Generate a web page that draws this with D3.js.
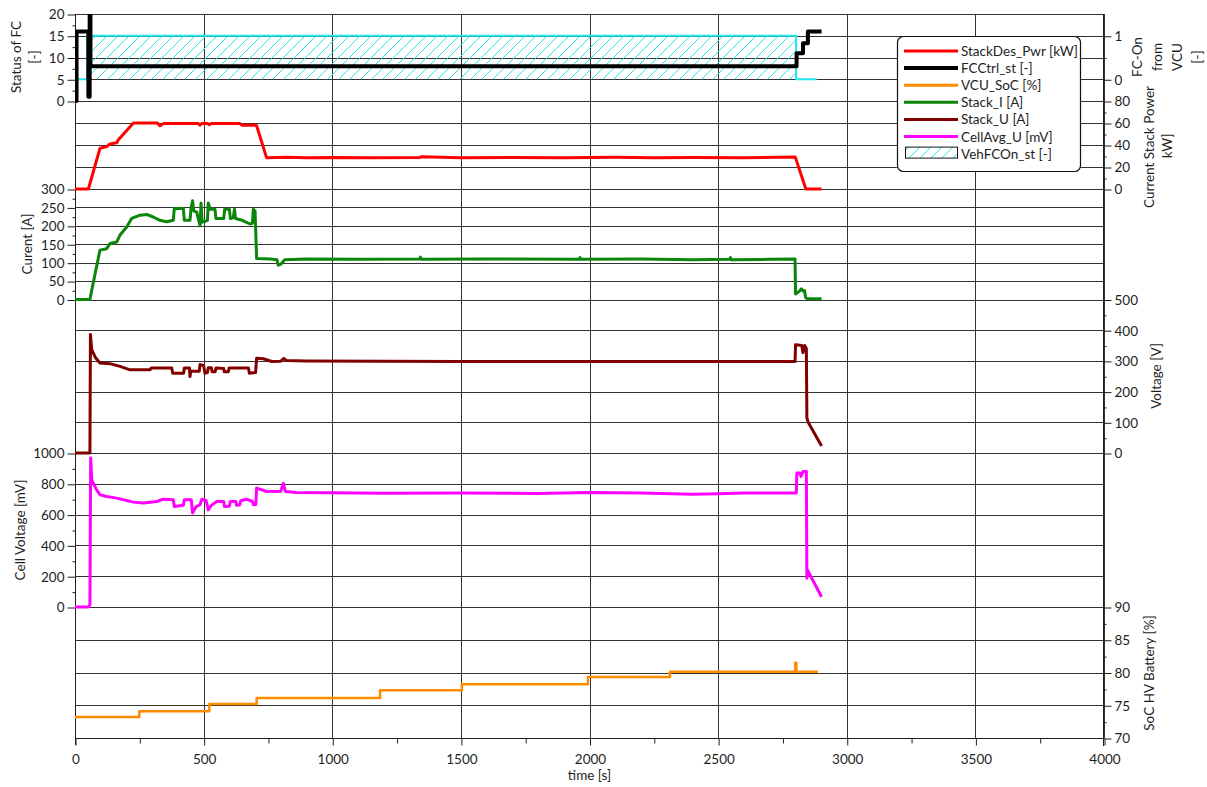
<!DOCTYPE html>
<html>
<head>
<meta charset="utf-8">
<script src="https://cdn.jsdelivr.net/npm/d3@7"></script>
<style>
  body { margin: 0; background: #fff; }
  text { font-family: Lato, "Open Sans", sans-serif; fill: #1e1e1e; }
  .axis text { font-size: 13.5px; }
  .axis line { stroke: #1e1e1e; }
  .axis path { display: none; }
</style>
</head>
<body>
<svg id="chart" width="1207" height="787"></svg>
<script>
// ---- Measured signals (time in s) ----
// FCCtrl_st [-] (step signal)
const fcTime  = [0, 6, 52, 57, 60, 2805, 2830, 2849, 2902];
const fcValue = [0, 16, 1, 26, 8, 11, 13.3, 16, 16];

// VehFCOn_st [-] (step signal)
const vehTime  = [0, 47, 2803, 2883];
const vehValue = [0, 1, 0, 0];

// StackDes_Pwr [kW]
const pwrTime  = [0, 52, 97, 123, 136, 162, 168, 227, 320, 330, 345, 480, 486, 492, 515, 522, 530, 640, 650, 700, 706, 745, 820, 900, 1000, 1150, 1340, 1345, 1500, 1700, 1900, 2100, 2250, 2400, 2600, 2800, 2841, 2902];
const pwrValue = [0, 0, 37, 38.5, 41, 42, 44.5, 60, 60, 57.5, 59.5, 59.5, 58, 59.5, 59.5, 58.5, 59.5, 59.5, 58, 58, 57.5, 28.3, 28.9, 28.4, 28.7, 28.3, 28.6, 29.3, 28.5, 28.7, 28.4, 28.8, 28.4, 28.6, 28.4, 29, 0, 0];

// Stack_I [A]
const curTime  = [0, 58, 65, 97, 123, 136, 162, 175, 201, 220, 253, 279, 304, 330, 356, 382, 386, 421, 425, 447, 451, 457, 462, 473, 486, 490, 494, 505, 515, 518, 525, 544, 548, 578, 582, 600, 604, 615, 620, 624, 650, 680, 690, 693, 700, 706, 760, 785, 790, 800, 815, 900, 1100, 1340, 1343, 1346, 1600, 1960, 1963, 1966, 2200, 2400, 2545, 2548, 2551, 2700, 2799, 2801, 2815, 2824, 2832, 2836, 2840, 2846, 2902];
const curValue = [0, 0, 25, 134, 138, 152, 156, 175, 197, 220, 229, 231, 224, 215, 211, 215, 247, 247, 215, 215, 247, 268, 240, 238, 200, 262, 210, 212, 215, 262, 245, 245, 220, 220, 245, 245, 220, 222, 245, 220, 215, 205, 207, 245, 240, 111, 110, 108, 93, 96, 108, 110, 109, 110, 115, 109, 110, 109, 114, 109, 110, 108, 109, 114, 108, 109, 110, 15, 22, 29, 22, 24, 6, 2, 2];

// Stack_U [V]
const voltTime  = [0, 58, 60, 65, 80, 97, 136, 175, 214, 292, 296, 376, 380, 422, 425, 445, 447, 450, 483, 486, 500, 505, 515, 518, 530, 533, 545, 548, 578, 580, 596, 599, 674, 678, 702, 706, 732, 765, 800, 812, 822, 900, 1500, 2000, 2799, 2801, 2825, 2830, 2836, 2843, 2845, 2850, 2902];
const voltValue = [0, 0, 386, 337, 310, 293, 291, 282, 271, 271, 277, 277, 260, 260, 277, 277, 249, 266, 266, 288, 285, 260, 262, 278, 278, 265, 265, 277, 275, 265, 265, 277, 277, 260, 262, 309, 307, 298, 299, 308, 301, 300, 298, 298, 298, 353, 350, 327, 350, 340, 114, 100, 23];

// CellAvg_U [mV]
const cellTime  = [0, 52, 58, 61, 65, 84, 97, 123, 162, 201, 227, 266, 318, 343, 382, 386, 421, 425, 452, 457, 470, 486, 493, 510, 518, 530, 551, 578, 581, 600, 604, 625, 628, 640, 644, 667, 690, 693, 703, 706, 745, 800, 810, 818, 860, 1000, 1200, 1500, 1800, 2000, 2200, 2400, 2500, 2600, 2804, 2806, 2818, 2822, 2830, 2843, 2845, 2847, 2902];
const cellValue = [0, 0, 15, 967, 826, 761, 729, 718, 707, 692, 681, 675, 685, 700, 696, 653, 660, 696, 696, 611, 650, 664, 700, 690, 631, 660, 685, 685, 653, 655, 685, 685, 660, 662, 690, 700, 685, 664, 666, 772, 750, 752, 803, 750, 744, 742, 738, 740, 737, 743, 741, 732, 735, 740, 740, 870, 870, 848, 880, 880, 187, 240, 67];

// VCU_SoC [%] (step signal)
const socTime  = [0, 250, 522, 706, 1186, 1504, 1994, 2313, 2800, 2804, 2888];
const socValue = [73.2, 74.1, 75.2, 76.1, 77.3, 78.2, 79.3, 80.1, 81.5, 80.1, 80.1];

// ---- Axis ticks ----
const timeTicks      = [0, 500, 1000, 1500, 2000, 2500, 3000, 3500, 4000];
const timeMinor      = [250, 750, 1250, 1750, 2250, 2750, 3250, 3750];
const statusTicks    = [0, 5, 10, 15, 20];
const statusMinor    = [2.5, 7.5, 12.5, 17.5];
const fcOnTicks      = [0, 1];
const fcOnMinor      = [0.5];
const powerTicks     = [0, 20, 40, 60, 80];
const powerMinor     = [10, 30, 50, 70];
const currentTicks   = [0, 50, 100, 150, 200, 250, 300];
const currentMinor   = [25, 75, 125, 175, 225, 275];
const voltageTicks   = [0, 100, 200, 300, 400, 500];
const voltageMinor   = [50, 150, 250, 350, 450];
const cellTicks      = [0, 200, 400, 600, 800, 1000];
const cellMinor      = [100, 300, 500, 700, 900];
const socTicks       = [70, 75, 80, 85, 90];
const socMinor       = [72.5, 77.5, 82.5, 87.5];

// ---- Legend ----
const legendNames  = ["StackDes_Pwr [kW]", "FCCtrl_st [-]", "VCU_SoC [%]", "Stack_I [A]", "Stack_U [A]", "CellAvg_U [mV]", "VehFCOn_st [-]"];
const legendColors = ["#ff0000", "#000000", "#ff8c00", "#0b860b", "#800000", "#ff00ff", "hatch"];

// ---- Layout ----
const L = 75, R = 1104, T = 14, B = 738;
const svg = d3.select("#chart");

const x = d3.scaleLinear().domain([0, 4000]).range([L, R]);
const yStatus  = d3.scaleLinear().domain([0, 20]).range([101, T]);
const yFcOn    = d3.scaleLinear().domain([-0.5, 1.5]).range([101, T]);
const yPower   = d3.scaleLinear().domain([0, 80]).range([189, 101]);
const yCurrent = d3.scaleLinear().domain([0, 300]).range([299.5, 189]);
const yVoltage = d3.scaleLinear().domain([0, 500]).range([453, 299.5]);
const yCell    = d3.scaleLinear().domain([0, 1000]).range([607, 453]);
const ySoc     = d3.scaleLinear().domain([70, 90]).range([B, 607]);

const crisp = v => Math.round(v) + 0.5;

// hatch pattern
const defs = svg.append("defs");
const pat = defs.append("pattern").attr("id", "hatch")
  .attr("patternUnits", "userSpaceOnUse").attr("width", 11).attr("height", 11);
pat.append("path").attr("d", "M-1,1 L1,-1 M0,11 L11,0 M10,12 L12,10")
  .attr("stroke", "#2ee6ea").attr("stroke-width", 1);
defs.append("clipPath").attr("id", "plotClip")
  .append("rect").attr("x", L).attr("y", T).attr("width", R - L).attr("height", B - T);

// ---- Grid ----
const grid = svg.append("g").attr("stroke", "#333").attr("stroke-width", 1);
const hLines = [
  ...statusTicks.map(yStatus), ...fcOnTicks.map(yFcOn), ...powerTicks.map(yPower),
  ...currentTicks.map(yCurrent), ...voltageTicks.map(yVoltage), ...cellTicks.map(yCell),
  ...socTicks.map(ySoc)
];
Array.from(new Set(hLines.map(crisp))).forEach(y =>
  grid.append("line").attr("x1", L).attr("x2", R).attr("y1", y).attr("y2", y));
timeTicks.forEach(t =>
  grid.append("line").attr("x1", crisp(x(t))).attr("x2", crisp(x(t))).attr("y1", T).attr("y2", B));

// ---- Axes ----
function yAxis(gen, scale, major, minor, xpos) {
  const g = svg.append("g").attr("class", "axis").attr("transform", `translate(${xpos},0.5)`);
  g.call(gen(scale).tickValues(major).tickSize(8).tickSizeOuter(0).tickPadding(3).tickFormat(d3.format("d")));
  const gm = svg.append("g").attr("class", "axis").attr("transform", `translate(${xpos},0.5)`);
  gm.call(gen(scale).tickValues(minor).tickSize(3).tickSizeOuter(0).tickFormat(""));
}
yAxis(d3.axisLeft, yStatus, statusTicks, statusMinor, L + 0.5);
yAxis(d3.axisLeft, yCurrent, currentTicks, currentMinor, L + 0.5);
yAxis(d3.axisLeft, yCell, cellTicks, cellMinor, L + 0.5);
yAxis(d3.axisRight, yFcOn, fcOnTicks, fcOnMinor, R - 0.5);
yAxis(d3.axisRight, yPower, powerTicks, powerMinor, R - 0.5);
yAxis(d3.axisRight, yVoltage, voltageTicks, voltageMinor, R - 0.5);
yAxis(d3.axisRight, ySoc, socTicks, socMinor, R - 0.5);

const xg = svg.append("g").attr("class", "axis").attr("transform", `translate(0.5,${B + 0.5})`);
xg.call(d3.axisBottom(x).tickValues(timeTicks).tickSize(7).tickSizeOuter(0).tickPadding(9).tickFormat(d3.format("d")));
svg.append("g").attr("class", "axis").attr("transform", `translate(0.5,${B + 0.5})`)
  .call(d3.axisBottom(x).tickValues(timeMinor).tickSize(5).tickSizeOuter(0).tickFormat(""));

// frame lines
svg.append("line").attr("x1", L + 0.5).attr("x2", L + 0.5).attr("y1", T).attr("y2", B + 7).attr("stroke", "#1e1e1e");
svg.append("line").attr("x1", R - 0.5).attr("x2", R - 0.5).attr("y1", T).attr("y2", B + 8).attr("stroke", "#1e1e1e");
svg.append("line").attr("x1", L).attr("x2", R).attr("y1", B + 0.5).attr("y2", B + 0.5).attr("stroke", "#1e1e1e");

// ---- Series ----
const plot = svg.append("g").attr("clip-path", "url(#plotClip)");
const zip = (ts, vs) => ts.map((t, i) => [t, vs[i]]);

const vehData = zip(vehTime, vehValue);
plot.append("path").datum(vehData)
  .attr("d", d3.area().curve(d3.curveStepAfter).x(d => x(d[0])).y0(yFcOn(0)).y1(d => yFcOn(d[1])))
  .attr("fill", "url(#hatch)");
plot.append("path").datum(vehData)
  .attr("d", d3.line().curve(d3.curveStepAfter).x(d => x(d[0])).y(d => yFcOn(d[1])))
  .attr("fill", "none").attr("stroke", "#1ee8f0").attr("stroke-width", 2);

function drawLine(ts, vs, scale, color, width, curve) {
  plot.append("path").datum(zip(ts, vs))
    .attr("d", d3.line().curve(curve || d3.curveLinear).x(d => x(d[0])).y(d => scale(d[1])))
    .attr("fill", "none").attr("stroke", color).attr("stroke-width", width)
    .attr("stroke-linejoin", "round");
}
drawLine(pwrTime, pwrValue, yPower, legendColors[0], 3);
drawLine(socTime, socValue, ySoc, legendColors[2], 2.5, d3.curveStepAfter);
drawLine(curTime, curValue, yCurrent, legendColors[3], 3);
drawLine(voltTime, voltValue, yVoltage, legendColors[4], 3);
drawLine(cellTime, cellValue, yCell, legendColors[5], 3);
drawLine(fcTime, fcValue, yStatus, legendColors[1], 4, d3.curveStepAfter);

// ---- Axis titles ----
function vText(lines, cx, cy, gap) {
  lines.forEach((s, i) => {
    const xx = cx + i * gap;
    svg.append("text").attr("transform", `translate(${xx},${cy}) rotate(-90)`)
      .attr("text-anchor", "middle").attr("dominant-baseline", "central")
      .style("font-size", "13.5px").text(s);
  });
}
vText(["Status of FC", "[-]"], 16, 57, 18);
vText(["Curent [A]"], 27, 244, 0);
vText(["Cell Voltage [mV]"], 20, 530, 0);
vText(["FC-On", "from", "VCU", "[-]"], 1137, 57, 20);
vText(["Current Stack Power"], 1149, 147, 0);
vText(["kW]"], 1167, 146, 0);
vText(["Voltage [V]"], 1156, 376, 0);
vText(["SoC HV Battery [%]"], 1149, 673, 0);
svg.append("text").attr("x", x(2000)).attr("y", 780).attr("text-anchor", "middle")
  .style("font-size", "13.5px").text("time [s]");

// ---- Legend ----
const lg = svg.append("g");
lg.append("rect").attr("x", 897.5).attr("y", 36.5).attr("width", 183).attr("height", 135)
  .attr("rx", 6).attr("fill", "#fff").attr("stroke", "#111").attr("stroke-width", 1.2);
legendNames.forEach((name, i) => {
  const cy = 51 + i * 17.1;
  if (legendColors[i] === "hatch") {
    lg.append("rect").attr("x", 905.5).attr("y", cy - 6.5).attr("width", 52).attr("height", 11)
      .attr("fill", "url(#hatch)").attr("stroke", "#111").attr("stroke-width", 1);
  } else {
    lg.append("line").attr("x1", 904).attr("x2", 958).attr("y1", cy).attr("y2", cy)
      .attr("stroke", legendColors[i]).attr("stroke-width", i === 1 ? 4 : 3);
  }
  lg.append("text").attr("x", 961).attr("y", cy).attr("dominant-baseline", "central")
    .style("font-size", "13.5px").text(name);
});
</script>
</body>
</html>
